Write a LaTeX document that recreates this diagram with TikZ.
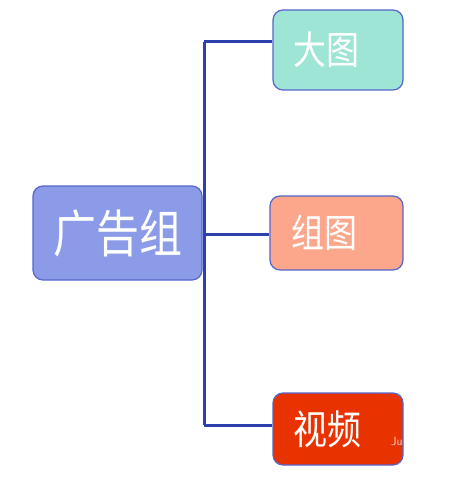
\documentclass[tikz,border=0pt]{standalone}
\usepackage{fontspec}
\newfontfamily\cjk{Noto Sans CJK SC}
\newcommand{\tallt}[1]{\scalebox{1}[1.18]{#1}}
\definecolor{linec}{HTML}{2E3FAE}
\definecolor{edgec}{HTML}{5566CC}
\definecolor{mainc}{HTML}{8B9BE8}
\definecolor{tealc}{HTML}{9EE5D6}
\definecolor{salmc}{HTML}{FCA68B}
\definecolor{redc}{HTML}{E83200}
\tikzset{
  box/.style={draw=edgec, line width=1.2pt, rounded corners=10pt, inner sep=0pt, text=white, font=\cjk},
  conn/.style={draw=linec, line width=3pt}
}
\begin{document}
\begin{tikzpicture}[x=1pt,y=-1pt]
\useasboundingbox (0,0) rectangle (460,478);
\node[box, fill=mainc, minimum width=169pt, minimum height=94pt, font=\cjk\fontsize{43}{43}\selectfont] (main) at (117.5,233) {\tallt{广告组}};
\node[box, fill=tealc, minimum width=130pt, minimum height=80pt, font=\cjk\fontsize{33}{33}\selectfont, text width=90pt, align=left] (a) at (338,50) {\tallt{大图}};
\node[box, fill=salmc, minimum width=133pt, minimum height=74pt, font=\cjk\fontsize{33}{33}\selectfont, text width=91pt, align=left] (b) at (336.5,233) {\tallt{组图}};
\node[box, fill=redc, minimum width=130pt, minimum height=72pt, font=\cjk\fontsize{34}{34}\selectfont, text width=90pt, align=left] (c) at (338,429) {\tallt{视频}};
\coordinate (top) at (204,42);
\coordinate (bot) at (204,425);
\coordinate (mid) at (204,234);
\draw[conn] (top) -- (bot);
\draw[conn] (top) -- (a.west |- top);
\draw[conn] (main.east |- mid) -- (b.west |- mid);
\draw[conn] (bot) -- (c.west |- bot);
\node[font=\sffamily\fontsize{12}{12}\selectfont, text=white!80!redc, anchor=west, inner sep=0pt] (wm) at (391,441) {Ju};
\end{tikzpicture}
\end{document}
